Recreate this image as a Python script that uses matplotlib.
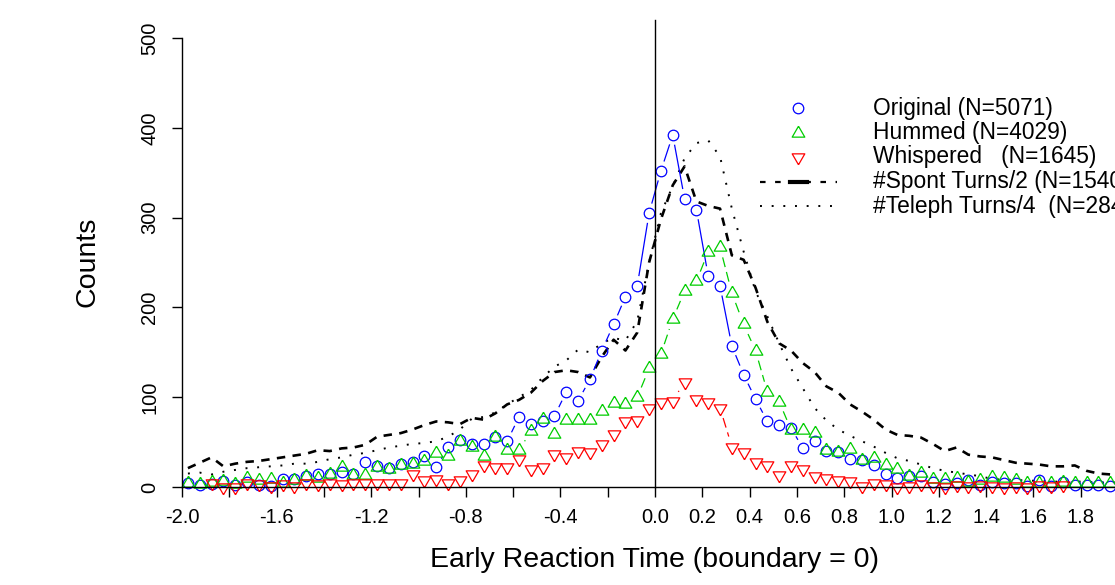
import numpy as np
import matplotlib
matplotlib.use("Agg")
import matplotlib.pyplot as plt
from matplotlib.lines import Line2D

plt.rcParams["font.family"] = "Liberation Sans"
plt.rcParams["axes.unicode_minus"] = False

# bin centres, 0.05 wide
x_bins = np.arange(-1.975, 2.0, 0.05)

original = [4, 2, 3, 7, 2, 6, 2, 1, 9, 9,
            12, 15, 15, 17, 15, 28, 23, 21, 26, 28,
            35, 22, 44, 52, 48, 48, 56, 51, 78, 70,
            73, 79, 106, 96, 120, 152, 181, 212, 224, 305,
            352, 392, 321, 309, 235, 224, 157, 125, 98, 73,
            69, 66, 43, 51, 40, 39, 31, 30, 25, 15,
            10, 12, 12, 6, 3, 5, 8, 2, 6, 4,
            5, 1, 8, 1, 6, 2, 2, 2, 1, 1]
hummed = [4, 3, 6, 7, 3, 10, 8, 9, 5, 8,
          12, 10, 14, 22, 13, 13, 22, 20, 24, 26,
          29, 38, 35, 51, 44, 35, 56, 41, 41, 62,
          76, 59, 75, 75, 75, 85, 94, 92, 100, 132,
          148, 187, 218, 229, 262, 267, 216, 181, 152, 106,
          95, 64, 64, 60, 41, 39, 42, 30, 32, 24,
          20, 12, 16, 9, 9, 10, 6, 8, 11, 10,
          8, 5, 5, 5, 6, 5, 5, 5, 5, 4]
# whispered starts at the third bin and stops at 1.725
whispered = [4, 0, 0, 4, 3, 1, 3, 1, 4, 3,
             4, 3, 4, 4, 4, 5, 5, 14, 8, 9,
             5, 8, 14, 25, 22, 22, 31, 20, 22, 37,
             33, 40, 39, 48, 59, 73, 75, 88, 95, 96,
             117, 98, 95, 88, 45, 39, 28, 25, 13, 25,
             20, 12, 10, 8, 7, 1, 5, 3, 0, 1,
             3, 1, 0, 2, 1, 2, 1, 0, 1, 0,
             2, 1, 2]
spont_half = [21, 27, 33, 23, 26, 28, 29, 31, 33, 35,
              37, 41, 40, 43, 44, 47, 56, 58, 60, 64,
              69, 73, 72, 70, 77, 75, 82, 92, 97, 105,
              118, 128, 130, 128, 122, 145, 164, 152, 172, 250,
              298, 336, 357, 318, 313, 310, 258, 253, 222, 184,
              160, 152, 138, 128, 112, 105, 92, 84, 75, 64,
              58, 57, 55, 48, 40, 44, 36, 34, 33, 30,
              27, 26, 25, 23, 23, 24, 18, 15, 14, 12]
teleph_quarter = [15, 16, 14, 17, 19, 21, 22, 23, 24, 26,
                  26, 28, 31, 33, 36, 38, 41, 44, 46, 48,
                  49, 51, 56, 64, 76, 78, 83, 92, 100, 108,
                  122, 134, 141, 153, 150, 160, 166, 163, 185, 250,
                  305, 335, 366, 383, 386, 368, 310, 262, 218, 190,
                  160, 132, 110, 88, 74, 64, 57, 51, 45, 38,
                  32, 29, 25, 21, 18, 16, 14, 12, 9, 8,
                  8, 7, 7, 6, 6, 6, 6, 5, 5, 5]

labels = ["Original (N=5071)", "Hummed (N=4029)", "Whispered   (N=1645)",
          "#Spont Turns/2 (N=1540)", "#Teleph Turns/4  (N=284)"]

BLUE, GREEN, RED = "#0000FF", "#00CD00", "#FF0000"
TRI_UP = [(0, 1), (-0.866, -0.5), (0.866, -0.5), (0, 1)]
TRI_DN = [(0, -1), (-0.866, 0.5), (0.866, 0.5), (0, -1)]
MS_C, MS_T = 7.6, 10.5

W, H = 1115, 585
fig = plt.figure(figsize=(W / 100, H / 100), dpi=100)
ax = fig.add_axes([182 / W, (H - 487) / H, 946 / W, 449 / H])
ax.set_xlim(-2.0, 2.0)
ax.set_ylim(0, 500)


def type_b(x, y, gap=10.5, **kw):
    # R style type="b": line pieces with a gap round every point
    pts = ax.transData.transform(np.column_stack([x, y]))
    inv = ax.transData.inverted()
    for p0, p1 in zip(pts[:-1], pts[1:]):
        d = p1 - p0
        L = np.hypot(*d)
        if L <= 2 * gap:
            continue
        u = d / L
        seg = inv.transform([p0 + u * gap, p1 - u * gap])
        ax.plot(seg[:, 0], seg[:, 1], clip_on=False, **kw)


xw = x_bins[2:2 + len(whispered)]

ax.plot(x_bins, spont_half, color="black", lw=1.9, ls=(0, (3.2, 2.8)), clip_on=False)
ax.plot(x_bins, teleph_quarter, color="black", lw=1.4, ls=(0, (1, 5)), clip_on=False)

type_b(x_bins, original, color=BLUE, lw=0.9)
type_b(x_bins, hummed, color=GREEN, lw=0.9, ls=(0, (8, 4)))
type_b(xw, whispered, color=RED, lw=0.9, ls=(0, (8, 4)))

ax.plot(x_bins, original, ls="none", marker="o", ms=MS_C, mfc="none", mec=BLUE, mew=0.9, clip_on=False)
ax.plot(x_bins, hummed, ls="none", marker=TRI_UP, ms=MS_T, mfc="none", mec=GREEN, mew=0.9, clip_on=False)
ax.plot(xw, whispered, ls="none", marker=TRI_DN, ms=MS_T, mfc="none", mec=RED, mew=0.9, clip_on=False)

ax.plot([0, 0], [0, 520], color="black", lw=1, clip_on=False)

# axes in R style
for s in ["top", "right"]:
    ax.spines[s].set_visible(False)
ax.spines["left"].set_bounds(0, 500)
ax.spines["bottom"].set_bounds(-2.0, 2.0)
ax.spines["left"].set_linewidth(1)
ax.spines["bottom"].set_linewidth(1)

xt = np.round(np.arange(-2.0, 2.01, 0.2), 1)
xl = []
for v in xt:
    if (v < 0 and round(v * 10) % 4 != 0) or v > 1.9:
        xl.append("")
    else:
        xl.append("%.1f" % abs(v) if abs(v) < 1e-9 else "%.1f" % v)
ax.set_xticks(xt)
ax.set_xticklabels(xl, fontsize=14.5)
ax.set_yticks([0, 100, 200, 300, 400, 500])
ax.set_yticklabels(["0", "100", "200", "300", "400", "500"], rotation=90, va="center",
                   fontsize=14.5)
ax.tick_params(axis="both", direction="out", length=7.2, width=1)
ax.tick_params(axis="x", pad=8)
ax.tick_params(axis="y", pad=9)

fig.text(655 / W, 1 - 560 / H, "Early Reaction Time (boundary = 0)", fontsize=20.5,
         ha="center", va="center")
fig.text(87 / W, 1 - 262 / H, "Counts", fontsize=20.5, rotation=90, ha="center", va="center")

# legend drawn by hand
rows = [108, 132.5, 157, 181.5, 206]
tf = fig.transFigure
fx = lambda px: px / W
fy = lambda py: 1 - py / H
fig.add_artist(Line2D([fx(798)], [fy(rows[0])], transform=tf, ls="none", marker="o", ms=MS_C,
                      mfc="none", mec=BLUE, mew=0.9))
fig.add_artist(Line2D([fx(798)], [fy(rows[1])], transform=tf, ls="none", marker=TRI_UP, ms=MS_T,
                      mfc="none", mec=GREEN, mew=0.9))
fig.add_artist(Line2D([fx(798)], [fy(rows[2])], transform=tf, ls="none", marker=TRI_DN, ms=MS_T,
                      mfc="none", mec=RED, mew=0.9))
fig.add_artist(Line2D([fx(760), fx(837)], [fy(rows[3])] * 2, transform=tf, color="black",
                      lw=1.6, ls=(0, (2.5, 4.3))))
fig.add_artist(Line2D([fx(790), fx(807)], [fy(rows[3])] * 2, transform=tf, color="black", lw=3))
fig.add_artist(Line2D([fx(760), fx(837)], [fy(rows[4])] * 2, transform=tf, color="black",
                      lw=1.4, ls=(0, (1, 5))))
for lab, r in zip(labels, rows):
    fig.text(fx(873), fy(r), lab, fontsize=16.4, ha="left", va="center")

fig.savefig("out.png", dpi=100)
